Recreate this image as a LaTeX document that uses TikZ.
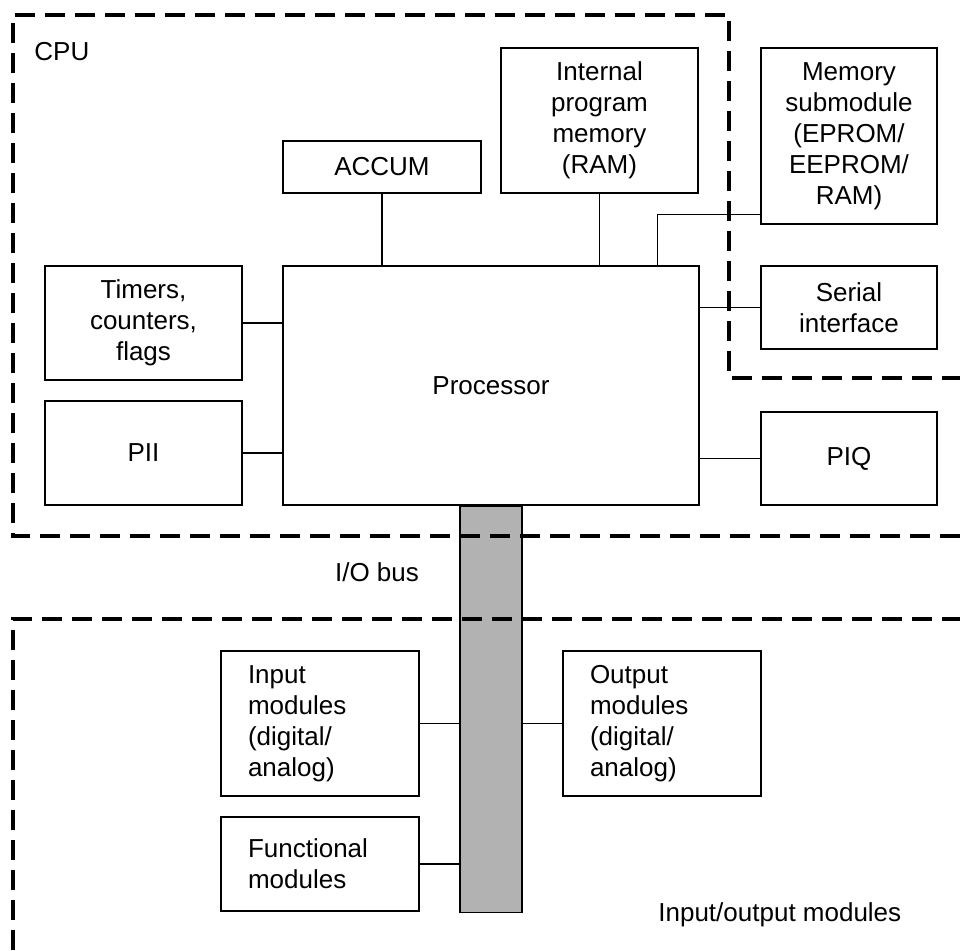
\documentclass[tikz,border=0pt]{standalone}
\usepackage{fontspec}
\setmainfont{Liberation Sans}
\usetikzlibrary{positioning}
\begin{document}
\begin{tikzpicture}[
    x=0.5pt, y=-0.5pt,
    every node/.style={
        font=\fontsize{13}{15.5}\selectfont,
        inner sep=0pt,
    },
    blk/.style={draw, line width=0.7pt, align=center},
    lblk/.style={draw, line width=0.7pt, align=left, text width=72pt, inner xsep=13.5pt, minimum width=99pt},
    frame/.style={line width=2pt, dash pattern=on 10pt off 5pt},
    conn/.style={line width=0.7pt}
  ]
  \useasboundingbox (0,0) rectangle (960,950);
  \node [blk, minimum width=99pt, minimum height=26pt] (accum) at (382,167) {ACCUM};
  \node [blk, minimum width=98.5pt, minimum height=72.5pt] (intmem) at (599.5,120.5) {Internal\\program\\memory\\(RAM)};
  \node [blk, minimum width=88pt, minimum height=88pt] (memsub) at (849,136) {Memory\\submodule\\(EPROM/\\EEPROM/\\RAM)};
  \node [blk, minimum width=88pt, minimum height=41.5pt] (serial) at (849,307.5) {Serial\\interface};
  \node [blk, minimum width=208pt, minimum height=119.5pt] (proc) at (491,385.5) {Processor};
  \node [blk, minimum width=98.5pt, minimum height=57pt] (timers) at (143.5,323) {Timers,\\counters,\\flags};
  \node [blk, minimum width=98.5pt, minimum height=52pt] (pii) at (143.5,453) {PII};
  \node [blk, minimum width=88pt, minimum height=46.5pt] (piq) at (849,458.5) {PIQ};
  \node [draw, line width=0.7pt, fill=black!30, minimum width=31pt, minimum height=203pt, below=0pt of proc] (bus) {};
  \node [lblk, minimum height=72.5pt] (inmod) at (320,723.5) {Input\\modules\\(digital/\\analog)};
  \node [lblk, minimum height=72.5pt] (outmod) at (662,723.5) {Output\\modules\\(digital/\\analog)};
  \node [lblk, minimum height=47pt] (funcmod) at (320,864) {Functional\\modules};
  \node [anchor=west] (cpulbl) at (34,52) {CPU};
  \node (buslbl) at (377,572) {I/O bus};
  \node [anchor=west] (iolbl) at (658,915) {Input/output modules};
  \draw [frame] (960,536) -- (13,536) -- (13,15) -- (729,15) -- (729,378) -- (960,378);
  \draw [frame] (13,950) -- (13,619) -- (960,619);
  \draw [conn] (accum.south) -- (accum.south |- proc.north);
  \draw [conn] (intmem.south) -- (intmem.south |- proc.north);
  \draw [conn] ([yshift=5pt]memsub.south west) -| ([xshift=-21pt]proc.north east);
  \draw [conn] (serial.west) -- (serial.west -| proc.east);
  \draw [conn] (piq.west) -- (piq.west -| proc.east);
  \draw [conn] (timers.east) -- (timers.east -| proc.west);
  \draw [conn] (pii.east) -- (pii.east -| proc.west);
  \draw [conn] (inmod.east) -- (inmod.east -| bus.west);
  \draw [conn] (outmod.west) -- (outmod.west -| bus.east);
  \draw [conn] (funcmod.east) -- (funcmod.east -| bus.west);
\end{tikzpicture}
\end{document}
